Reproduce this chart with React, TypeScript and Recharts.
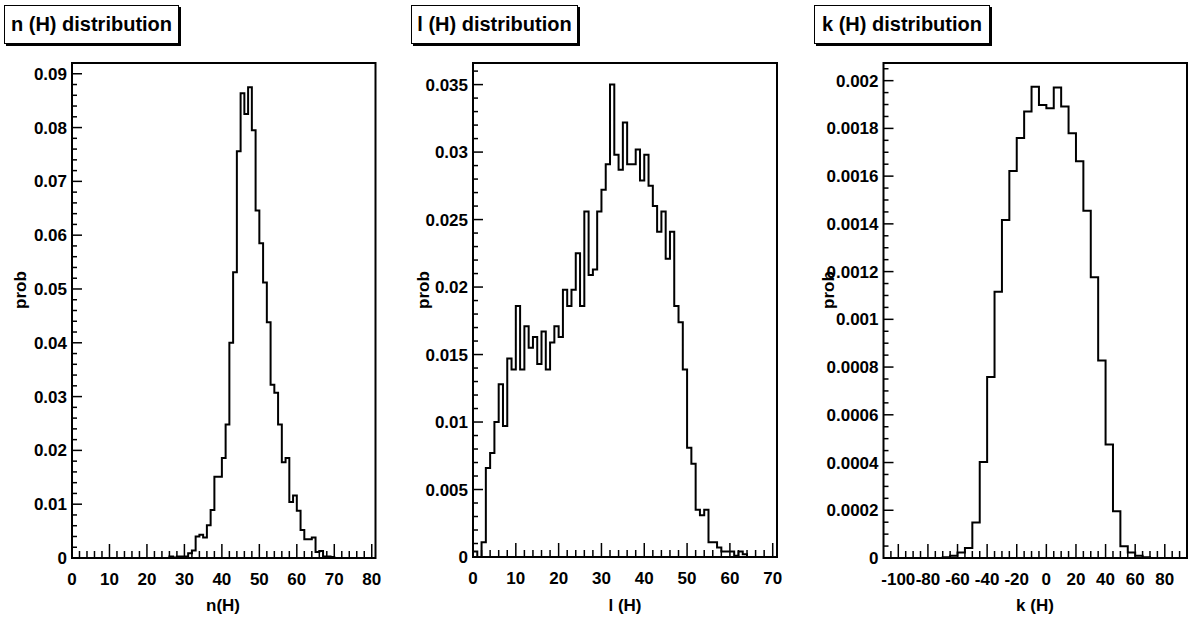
import React from 'react';
import { LineChart, Line, XAxis, YAxis, ReferenceArea } from 'recharts';

// n(H): 81 bins of width 1 starting at 0
const nStart = 0;
const nWidth = 1;
const nProb = [
  0, 0, 0, 0, 0, 0, 0, 0, 0, 0,
  0, 0, 0, 0, 0, 0, 0, 0, 0, 0,
  0, 0, 0, 0, 0, 0, 0.0003, 0.0001, 0.0003, 0.0003,
  0.0003, 0.0009, 0.0014, 0.004, 0.0043, 0.0038, 0.0061, 0.0089, 0.0151, 0.0151,
  0.0186, 0.0248, 0.04, 0.0531, 0.0756, 0.0864, 0.0825, 0.0875, 0.0795, 0.0646,
  0.0585, 0.0512, 0.0438, 0.0322, 0.0307, 0.0248, 0.0178, 0.0186, 0.0104, 0.0116,
  0.0088, 0.0052, 0.0035, 0.0035, 0.0038, 0.0011, 0.0013, 0.0003, 0.0003, 0.0002,
  0, 0, 0, 0, 0, 0, 0, 0, 0, 0,
  0,
];
const nXMajor = [0, 10, 20, 30, 40, 50, 60, 70, 80];
const nYMajor = [0, 0.01, 0.02, 0.03, 0.04, 0.05, 0.06, 0.07, 0.08, 0.09];

// l(H): 71 bins of width 1 starting at 0
const lStart = 0;
const lWidth = 1;
const lProb = [
  0.0004, 0, 0.0011, 0.0066, 0.0077, 0.01, 0.0128, 0.0097, 0.0147, 0.0139,
  0.0186, 0.0139, 0.0171, 0.0155, 0.0163, 0.0143, 0.0167, 0.0139, 0.0159, 0.0171,
  0.0163, 0.0198, 0.0186, 0.0198, 0.0225, 0.0186, 0.0256, 0.0209, 0.0213, 0.0256,
  0.0272, 0.0291, 0.035, 0.0298, 0.0287, 0.0322, 0.0291, 0.0291, 0.0302, 0.0279,
  0.0298, 0.0275, 0.026, 0.0241, 0.0256, 0.0221, 0.0241, 0.0186, 0.0174, 0.0139,
  0.0081, 0.0069, 0.0035, 0.0031, 0.0035, 0.0011, 0.0011, 0.0007, 0.0004, 0.0004,
  0.0004, 0.0001, 0.0004, 0.0002, 0, 0, 0, 0, 0, 0,
  0,
];
const lXMajor = [0, 10, 20, 30, 40, 50, 60, 70];
const lYMajor = [0, 0.005, 0.01, 0.015, 0.02, 0.025, 0.03, 0.035];

// k(H): 41 bins of width 5 starting at -110
const kStart = -110;
const kWidth = 5;
const kProb = [
  0, 0, 0, 0, 0, 0, 0, 0, 0.000003, 0.000009,
  0.000023, 0.000042, 0.000149, 0.000402, 0.000758, 0.001116, 0.001416, 0.001622, 0.00176, 0.001871,
  0.001974, 0.001898, 0.001884, 0.001971, 0.001892, 0.00178, 0.001662, 0.001455, 0.001176, 0.000827,
  0.000476, 0.000196, 0.000049, 0.000023, 0.000009, 0.000003, 0, 0, 0, 0,
  0,
];
const kXMajor = [-100, -80, -60, -40, -20, 0, 20, 40, 60, 80];
const kYMajor = [0, 0.0002, 0.0004, 0.0006, 0.0008, 0.001, 0.0012, 0.0014, 0.0016, 0.0018, 0.002];

const FONT = '"Liberation Sans", Arial, Helvetica, sans-serif';
const Y_AXIS_W = 60;
const X_AXIS_H = 30;

// histogram outline points: left edge of each bin, plus the closing right edge
const toSteps = (start: number, width: number, vals: number[]) => [
  ...vals.map((v, i) => ({ x: start + i * width, v })),
  { x: start + vals.length * width, v: vals[vals.length - 1] },
];

const clean = (v: number) => Number(v.toPrecision(8));

const minorTicks = (lo: number, hi: number, step: number) => {
  const out: number[] = [];
  const n = Math.round((hi - lo) / step);
  for (let i = 0; i <= n; i++) out.push(clean(lo + i * step));
  return out;
};

const isMajor = (v: number, majors: number[], step: number) =>
  majors.some((m) => Math.abs(m - v) < step * 0.01);

const labelStyle: React.CSSProperties = {
  fontFamily: FONT,
  fontWeight: 'bold',
  fontSize: 17,
  fill: '#000',
};

interface PanelProps {
  left: number;
  plot: { left: number; right: number; top: number; bottom: number };
  data: { x: number; v: number }[];
  xDomain: [number, number];
  yMax: number;
  xMajor: number[];
  xMinor: number[];
  xStep: number;
  yMajor: number[];
  yMinor: number[];
  yStep: number;
}

const PANEL_W = 397;

function Panel({ left, plot, data, xDomain, yMax, xMajor, xMinor, xStep, yMajor, yMinor, yStep }: PanelProps) {
  const margin = {
    top: plot.top,
    bottom: 620 - plot.bottom - X_AXIS_H,
    left: plot.left - left - Y_AXIS_W,
    right: PANEL_W - (plot.right - left),
  };

  const xTick = (props: any) => {
    const { x, y, payload } = props;
    const major = isMajor(payload.value, xMajor, xStep);
    return (
      <g>
        <line x1={x} y1={y} x2={x} y2={y - (major ? 14 : 7)} stroke="#000" strokeWidth={1.5} />
        {major && (
          <text x={x} y={y + 27} textAnchor="middle" style={labelStyle}>
            {String(clean(payload.value))}
          </text>
        )}
      </g>
    );
  };

  const yTick = (props: any) => {
    const { x, y, payload } = props;
    const major = isMajor(payload.value, yMajor, yStep);
    return (
      <g>
        <line x1={x} y1={y} x2={x + (major ? 10 : 5)} y2={y} stroke="#000" strokeWidth={1.5} />
        {major && (
          <text x={x - 5} y={y + 6} textAnchor="end" style={labelStyle}>
            {String(clean(payload.value))}
          </text>
        )}
      </g>
    );
  };

  return (
    <div style={{ position: 'absolute', left, top: 0 }}>
      <LineChart width={PANEL_W} height={620} data={data} margin={margin}>
        <XAxis
          dataKey="x"
          type="number"
          domain={xDomain}
          allowDataOverflow
          ticks={xMinor}
          interval={0}
          height={X_AXIS_H}
          tickSize={0}
          tickMargin={0}
          axisLine={false}
          tick={xTick}
        />
        <YAxis
          type="number"
          domain={[0, yMax]}
          allowDataOverflow
          ticks={yMinor}
          interval={0}
          width={Y_AXIS_W}
          tickSize={0}
          tickMargin={0}
          axisLine={false}
          tick={yTick}
        />
        <ReferenceArea
          x1={xDomain[0]}
          x2={xDomain[1]}
          y1={0}
          y2={yMax}
          fill="#fff"
          fillOpacity={0}
          stroke="#000"
          strokeWidth={2}
          ifOverflow="visible"
        />
        <Line
          type="stepAfter"
          dataKey="v"
          stroke="#000"
          strokeWidth={2}
          dot={false}
          activeDot={false}
          isAnimationActive={false}
        />
      </LineChart>
    </div>
  );
}

const textBase: React.CSSProperties = {
  position: 'absolute',
  fontFamily: FONT,
  fontWeight: 'bold',
  color: '#000',
  whiteSpace: 'nowrap',
};

function TitleBox({ left, width, text }: { left: number; width: number; text: string }) {
  return (
    <div
      style={{
        ...textBase,
        left,
        top: 5,
        width,
        height: 37,
        border: '1px solid #000',
        boxShadow: '2px 2px 0 #000',
        fontSize: 20,
        lineHeight: '37px',
        textAlign: 'center',
        background: '#fff',
      }}
    >
      {text}
    </div>
  );
}

function AxisTitle({ cx, cy, text, rotate }: { cx: number; cy: number; text: string; rotate?: boolean }) {
  return (
    <div
      style={{
        ...textBase,
        left: cx,
        top: cy,
        fontSize: 17,
        lineHeight: '20px',
        transform: `translate(-50%, -50%)${rotate ? ' rotate(-90deg)' : ''}`,
      }}
    >
      {text}
    </div>
  );
}

export default function App() {
  return (
    <div style={{ position: 'absolute', left: 0, top: 0, width: 1192, height: 620, background: '#fff', overflow: 'hidden' }}>
      <Panel
        left={0}
        plot={{ left: 72, right: 375.5, top: 63, bottom: 558 }}
        data={toSteps(nStart, nWidth, nProb)}
        xDomain={[0, 81]}
        yMax={0.092}
        xMajor={nXMajor}
        xMinor={minorTicks(0, 80, 2)}
        xStep={2}
        yMajor={nYMajor}
        yMinor={minorTicks(0, 0.092, 0.002)}
        yStep={0.002}
      />
      <Panel
        left={397}
        plot={{ left: 473, right: 777, top: 63, bottom: 557 }}
        data={toSteps(lStart, lWidth, lProb)}
        xDomain={[0, 71]}
        yMax={0.0366}
        xMajor={lXMajor}
        xMinor={minorTicks(0, 70, 2)}
        xStep={2}
        yMajor={lYMajor}
        yMinor={minorTicks(0, 0.036, 0.001)}
        yStep={0.001}
      />
      <Panel
        left={795}
        plot={{ left: 883.5, right: 1187, top: 63, bottom: 558 }}
        data={toSteps(kStart, kWidth, kProb)}
        xDomain={[-110, 95]}
        yMax={0.002074}
        xMajor={kXMajor}
        xMinor={minorTicks(-105, 90, 5)}
        xStep={5}
        yMajor={kYMajor}
        yMinor={minorTicks(0, 0.00205, 0.00005)}
        yStep={0.00005}
      />

      <TitleBox left={4} width={173} text="n (H) distribution" />
      <TitleBox left={411} width={165} text="l (H) distribution" />
      <TitleBox left={814} width={174} text="k (H) distribution" />

      <AxisTitle cx={21} cy={290} text="prob" rotate />
      <AxisTitle cx={424} cy={290} text="prob" rotate />
      <AxisTitle cx={829} cy={290} text="prob" rotate />

      <AxisTitle cx={223} cy={606} text="n(H)" />
      <AxisTitle cx={625} cy={606} text="l (H)" />
      <AxisTitle cx={1035} cy={606} text="k (H)" />
    </div>
  );
}
